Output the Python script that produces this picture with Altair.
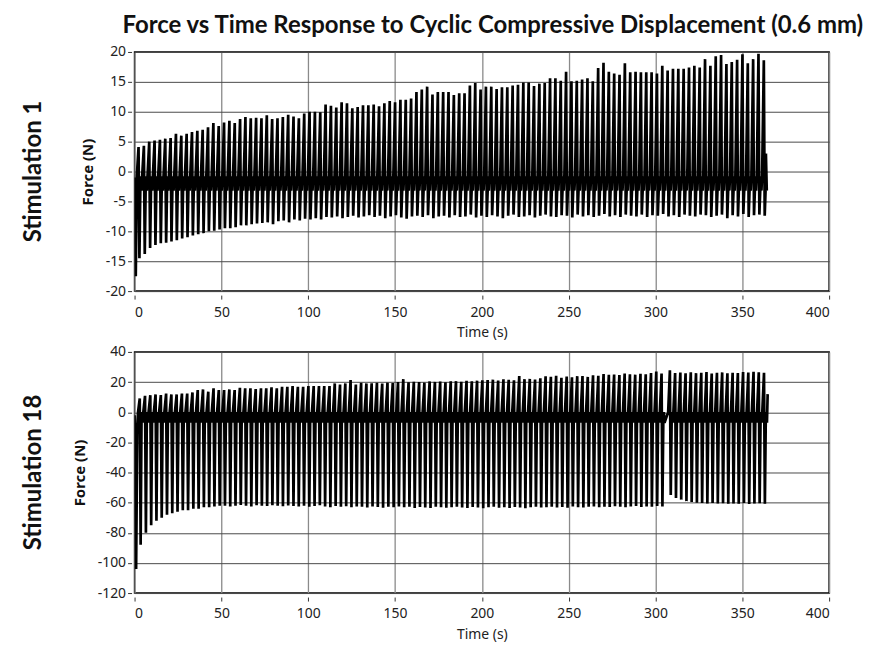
import altair as alt
import pandas as pd

TITLE = "Force vs Time Response to Cyclic Compressive Displacement (0.6 mm)"
ROW_LABELS = ["Stimulation 1", "Stimulation 18"]
X_TICKS = [0, 50, 100, 150, 200, 250, 300, 350, 400]
Y1_TICKS = [-20, -15, -10, -5, 0, 5, 10, 15, 20]
Y2_TICKS = [-120, -100, -80, -60, -40, -20, 0, 20, 40]

# ---- Stimulation 1: per-cycle peak / trough force (N)
s1_peaks = [4.1, 4.3, 5.0, 5.2, 5.3, 5.5, 5.6, 6.3, 6.0, 6.3,
            6.6, 6.8, 7.0, 7.4, 8.1, 7.6, 8.2, 8.5, 8.1, 8.8,
            9.1, 8.9, 9.0, 8.9, 9.4, 8.8, 8.9, 9.1, 9.5, 9.2,
            8.9, 9.7, 10.0, 10.0, 9.9, 11.2, 11.0, 10.7, 11.6, 11.4,
            10.6, 10.8, 11.1, 11.1,
            11.2, 10.9, 11.4, 11.8, 11.6, 12.0, 12.0, 12.2, 13.3, 13.7,
            14.2, 12.9, 13.3, 13.3, 13.3, 12.8, 13.1, 13.1, 14.4, 14.8,
            13.7, 14.2, 14.2, 13.8, 14.1, 14.1, 14.4, 14.5, 14.9, 14.9,
            14.3, 14.7, 14.8, 15.6, 15.6, 15.2, 16.7, 15.1, 15.2, 15.4,
            15.6, 15.1, 17.3, 18.2, 16.7, 16.4, 16.2, 18.1, 16.6, 16.7,
            16.6, 16.6, 16.6, 16.4, 17.7, 16.9, 17.2, 17.2, 17.2, 17.4,
            17.7, 17.4, 18.8, 17.7, 19.3, 19.5, 18.0, 18.3, 18.7, 19.6,
            18.1, 18.8, 19.7, 18.6]
s1_troughs = [-14.5, -13.8, -12.8, -12.3, -12.0, -11.9, -11.7, -11.5, -11.2, -11.0,
              -10.7, -10.5, -10.3, -10.0, -9.9, -9.7, -9.5, -9.5, -9.3, -9.0,
              -9.0, -8.8, -8.7, -8.6, -8.5, -8.8, -8.3, -8.2, -8.5, -8.0,
              -8.2, -7.9, -8.0, -7.8, -8.0, -7.6, -7.7, -7.5, -7.8, -7.6,
              -7.4, -7.7, -7.5, -7.3,
              -7.6, -7.4, -7.8, -7.5, -7.3, -7.7, -7.9, -7.5, -7.4, -7.6,
              -7.3, -7.8, -7.5, -7.4, -7.7, -7.3, -7.6, -7.5, -7.2, -7.7,
              -7.4, -7.6, -7.3, -7.5, -7.8, -7.4, -7.2, -7.6, -7.5, -7.3,
              -7.7, -7.4, -7.2, -7.5, -7.6, -7.3, -7.4, -7.7, -7.2, -7.5,
              -7.3, -7.6, -7.4, -7.1, -7.5, -7.3, -7.6, -7.2, -7.4, -7.5,
              -7.2, -7.6, -7.3, -7.4, -7.1, -7.5, -7.3, -7.6, -7.2, -7.4,
              -7.5, -7.2, -7.3, -7.6, -7.4, -7.2, -7.8, -7.3, -7.5, -7.1,
              -7.6, -7.3, -7.2, -7.4]
s1_span = (2.3, 362.4)            # time of first and last peak (s)
s1_base = (-0.8, -3.2)            # resting band between cycles
s1_start = [(0.0, -1.0), (0.7, -17.5), (1.2, -4.0)]
s1_end = [(363.6, 3.0)]

# ---- Stimulation 18
s2_peaks_a = [9.1, 10.9, 11.3, 11.8, 11.4, 12.4, 11.8, 11.8, 12.4, 12.4,
              13.1, 14.7, 15.1, 13.6, 15.8, 14.7, 14.7, 15.1, 14.7, 16.2,
              15.8, 15.8, 15.4, 15.8, 15.8, 16.5, 15.8, 16.9, 16.9, 17.3,
              16.9, 16.9, 17.3, 17.3, 17.3, 17.3, 17.3, 19.1, 18.4, 19.1,
              21.3, 18.4, 19.5, 19.1,
              19.2, 19.5, 19.0, 19.6, 19.3,
              20.0, 21.9, 19.8, 20.2, 20.0, 19.6, 20.4, 20.1, 20.3, 19.9,
              20.5, 20.6, 20.2, 20.8, 20.5, 20.9, 21.2,
              21.3, 21.6, 21.0, 21.8, 21.5, 21.2, 24.0, 21.9, 22.1, 21.7,
              22.5, 23.8, 23.5, 24.2, 22.8, 23.6, 23.2, 23.9, 24.0, 23.4,
              24.5, 24.1, 25.3, 24.8, 25.0, 24.6, 25.7, 25.2, 24.9, 25.5,
              25.1, 26.0, 27.0, 25.6]
s2_troughs_a = [-88, -80, -75, -72, -70, -68, -67, -66, -65, -65,
                -64, -64, -63, -63, -62.5, -62, -62, -62.5, -62, -61.5,
                -62, -62.5, -61.8, -62, -62.3, -61.7, -62, -62.4, -61.9, -62.2,
                -62.6, -62, -62.8, -62.3, -61.8, -62.5, -63, -62.2, -62.7, -62.4,
                -63, -62.5, -62.8, -63.2, -62.6, -62.9, -63.4, -62.7, -63, -62.5,
                -63.1, -62.8, -63.5, -62.9, -63.2, -63.6, -62.8, -63.1, -63.4, -63,
                -62.7, -63.3, -63.6, -62.9, -63.2, -63.8, -63.1, -62.8, -63.4, -63,
                -63.5, -62.9, -63.2, -63.7, -63, -62.8, -63.3, -63.1, -62.7, -63.2,
                -62.9, -63.4, -62.6, -63, -63.3, -62.8, -62.5, -63.1, -62.7, -62.9,
                -62.4, -62.8, -63, -62.6, -62.3, -62.9, -62.5, -62.7, -62.2, -62.6]
s2_peaks_b = [27.8, 26.0, 26.3, 25.8, 26.5, 25.9, 26.2, 26.6, 25.7, 26.1,
              26.4, 25.8, 26.2, 26.0, 26.7, 26.3, 26.8, 26.5, 26.2]
s2_troughs_b = [-55, -57, -58, -59, -59.5, -60, -60.2, -60.5, -60.3, -60.6,
                -60.4, -60.8, -60.5, -60.7, -60.3, -60.9, -60.6, -60.4, -60.8]
s2_span_a = (3.0, 303.5)
s2_span_b = (308.3, 362.5)
s2_base = (0.0, -7.0)
s2_start = [(0.0, -2.0), (0.9, -104.0), (1.6, -8.0)]
s2_end = [(364.6, 12.0)]


def cycles(peaks, troughs, span, base):
    n = min(len(peaks), len(troughs))
    step = (span[1] - span[0]) / (n - 1)
    pts = []
    for k in range(n):
        tp = span[0] + k * step
        pts += [(tp - 1.0, base[0]), (tp, peaks[k]), (tp + 0.5, troughs[k]),
                (tp + 1.0, base[1]), (tp + 1.35, base[0]), (tp + 1.7, base[1])]
    return pts


def frame(points):
    return pd.DataFrame({"t": [p[0] for p in points],
                         "f": [p[1] for p in points],
                         "i": list(range(len(points)))})


d1 = frame(s1_start + cycles(s1_peaks, s1_troughs, s1_span, s1_base) + s1_end)
d2 = frame(s2_start + cycles(s2_peaks_a, s2_troughs_a, s2_span_a, s2_base)
           + cycles(s2_peaks_b, s2_troughs_b, s2_span_b, s2_base) + s2_end)

LABEL_FONT = "Noto Sans"
NEG = "datum.value < 0 ? '-' + abs(datum.value) : '' + datum.value"


def panel(df, label, yticks, w, h, label_offset):
    xax = alt.Axis(values=X_TICKS, title="Time (s)", grid=True, gridColor="#8a8a8a",
                   gridWidth=1.3, domain=False, offset=4, tickSize=4, tickColor="#333",
                   labelFont=LABEL_FONT, labelFontSize=14, labelColor="#222",
                   titleFont=LABEL_FONT, titleFontSize=14, titleFontWeight="normal",
                   titleColor="#222", titlePadding=7, labelPadding=6)
    yax = alt.Axis(values=yticks, title="Force (N)", grid=True, gridColor="#4a4a4a",
                   gridWidth=1, domain=False, offset=3, tickSize=4, tickColor="#333",
                   labelFont=LABEL_FONT, labelFontSize=14, labelColor="#222",
                   labelExpr=NEG,
                   titleFont=LABEL_FONT, titleFontSize=15, titleFontWeight="bold",
                   titleColor="#111", titlePadding=10, labelPadding=2)
    return alt.Chart(df).mark_line(color="black", strokeWidth=2.7, clip=True).encode(
        x=alt.X("t:Q", scale=alt.Scale(domain=[0, 400], nice=False), axis=xax),
        y=alt.Y("f:Q", scale=alt.Scale(domain=[yticks[0], yticks[-1]], nice=False), axis=yax),
        order="i:Q",
    ).properties(
        width=w, height=h,
        title=alt.TitleParams(label, orient="left", anchor="middle", font="Lato",
                              fontSize=24, fontWeight="bold", color="#111",
                              offset=label_offset),
    )


c1 = panel(d1, ROW_LABELS[0], Y1_TICKS, 697, 240, 34)
c2 = panel(d2, ROW_LABELS[1], Y2_TICKS, 697, 242, 26)

chart = alt.concat(c1, c2, columns=1, spacing=3, align="none").properties(
    title=alt.TitleParams(TITLE, anchor="middle", font="Lato", fontSize=24,
                          fontWeight="bold", color="#111", offset=6, dx=67),
    padding={"left": 13, "top": 5, "right": 0, "bottom": 0},
).configure_view(stroke="black", strokeWidth=1.5)

chart.save("out.html", embed_options={"renderer": "svg", "actions": False})
